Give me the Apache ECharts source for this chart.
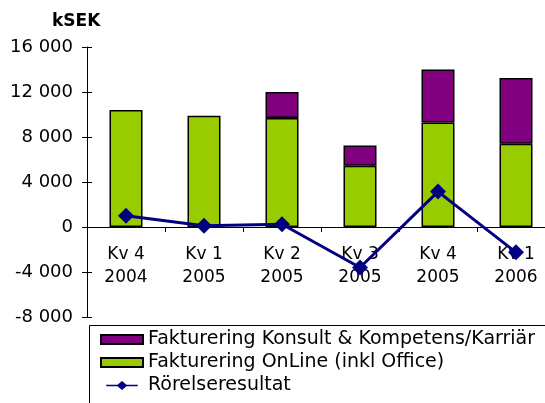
<!DOCTYPE html>
<html>
<head>
<meta charset="utf-8">
<script src="https://cdn.jsdelivr.net/npm/echarts@6/dist/echarts.min.js"></script>
<style>
  html, body { margin: 0; padding: 0; background: #fff; }
  #chart { width: 545px; height: 403px; }
</style>
</head>
<body>
<div id="chart"></div>
<script>
// kvartal och värden (kSEK)
const categories = ['Kv 4\n2004', 'Kv 1\n2005', 'Kv 2\n2005', 'Kv 3\n2005', 'Kv 4\n2005', 'Kv 1\n2006'];
const online = [10400, 9900, 9700, 5450, 9300, 7400];
const konsult = [null, null, 2300, 1800, 4700, 5850];
const resultat = [1000, 120, 250, -3600, 3150, -2250];
const yTicks = { min: -8000, max: 16000, interval: 4000 };

const names = {
  konsult: 'Fakturering Konsult & Kompetens/Karriär',
  online: 'Fakturering OnLine (inkl Office)',
  resultat: 'Rörelseresultat'
};

const font = 'DejaVu Sans';
const fmt = v => String(v).replace(/\B(?=(\d{3})+(?!\d))/g, ' ');
// linje med romb i legenden
const lineIcon = 'path://M0,4H15L21,-1L27,4H42V6H27L21,11L15,6H0Z';

const myChart = echarts.init(document.getElementById('chart'));

const option = {
  backgroundColor: '#fff',
  animation: false,
  title: {
    text: 'kSEK',
    left: 52,
    top: 13,
    padding: 0,
    textStyle: { fontFamily: font, fontSize: 17, fontWeight: 'bold', color: '#000' }
  },
  grid: { left: 87, top: 47, width: 468, height: 270, outerBoundsMode: 'none' },
  legend: {
    orient: 'vertical',
    left: 100,
    top: 330,
    height: 90,
    itemWidth: 42,
    itemHeight: 9,
    itemGap: 4,
    padding: 0,
    data: [
      { name: names.konsult, icon: 'rect' },
      { name: names.online, icon: 'rect' },
      { name: names.resultat, icon: lineIcon, itemStyle: { borderWidth: 0 } }
    ],
    textStyle: { fontFamily: font, fontSize: 19, color: '#000' }
  },
  graphic: [
    {
      type: 'rect',
      left: 87,
      top: 323,
      shape: { width: 500, height: 100 },
      style: { fill: 'none', stroke: '#000', lineWidth: 1 },
      z: -1
    }
  ],
  xAxis: {
    type: 'category',
    data: categories,
    offset: -90,
    axisLine: { onZero: false, lineStyle: { color: '#000', width: 1 } },
    axisTick: { show: true, length: 5, lineStyle: { color: '#000' } },
    axisLabel: { fontFamily: font, fontSize: 17, color: '#000', lineHeight: 23, margin: 16 }
  },
  yAxis: [
    {
      type: 'value',
      min: yTicks.min,
      max: yTicks.max,
      interval: yTicks.interval,
      axisLine: { show: true, lineStyle: { color: '#000', width: 1 } },
      axisTick: { show: true, length: 5, lineStyle: { color: '#000' } },
      splitLine: { show: false },
      axisLabel: { fontFamily: font, fontSize: 18, color: '#000', margin: 14, formatter: fmt }
    },
    {
      type: 'value',
      position: 'left',
      min: yTicks.min,
      max: yTicks.max,
      interval: yTicks.interval,
      axisLine: { show: false },
      axisTick: { show: true, inside: true, length: 5, lineStyle: { color: '#000' } },
      splitLine: { show: false },
      axisLabel: { show: false }
    }
  ],
  series: [
    {
      name: names.online,
      type: 'bar',
      stack: 'total',
      data: online,
      barWidth: 33,
      itemStyle: { color: '#99CC00', borderColor: '#000', borderWidth: 1.5 }
    },
    {
      name: names.konsult,
      type: 'bar',
      stack: 'total',
      data: konsult,
      barWidth: 33,
      itemStyle: { color: '#800080', borderColor: '#000', borderWidth: 1.5 }
    },
    {
      name: names.resultat,
      type: 'line',
      data: resultat,
      symbol: 'diamond',
      symbolSize: 16,
      z: 10,
      lineStyle: { color: '#000080', width: 3 },
      itemStyle: { color: '#000080' }
    }
  ]
};

option && myChart.setOption(option);
</script>
</body>
</html>
